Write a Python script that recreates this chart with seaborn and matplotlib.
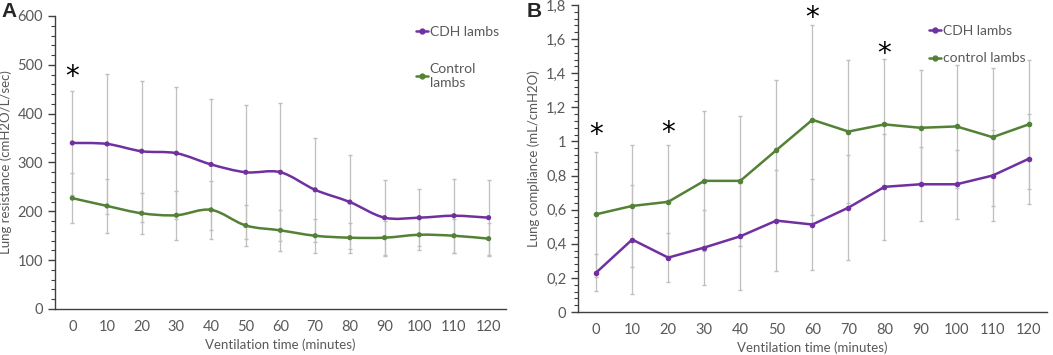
import numpy as np
import pandas as pd
import matplotlib
matplotlib.use("Agg")
import matplotlib.pyplot as plt
import seaborn as sns
from matplotlib.path import Path
from matplotlib.patches import PathPatch
from matplotlib.lines import Line2D
from matplotlib.ticker import MultipleLocator, FuncFormatter, FixedLocator

# ---------------- data ----------------
times = [0, 10, 20, 30, 40, 50, 60, 70, 80, 90, 100, 110, 120]

res_cdh = [340, 338, 323, 319, 296, 280, 280, 244, 219, 187, 187, 191, 187]
res_cdh_err = [107, 143, 144, 135, 134, 137, 141, 106, 96, 78, 59, 76, 78]
res_ctrl = [227, 211, 196, 192, 203, 171, 161, 150, 146, 146, 152, 150, 144]
res_ctrl_err = [51, 55, 42, 50, 59, 41, 42, 35, 31, 35, 32, 35, 33]

comp_cdh = [0.231, 0.425, 0.319, 0.378, 0.444, 0.536, 0.513, 0.612, 0.734, 0.749, 0.749, 0.800, 0.898]
comp_cdh_err = [0.11, 0.32, 0.143, 0.218, 0.313, 0.295, 0.265, 0.309, 0.309, 0.217, 0.203, 0.268, 0.262]
comp_ctrl = [0.573, 0.622, 0.646, 0.769, 0.769, 0.949, 1.127, 1.058, 1.100, 1.080, 1.088, 1.025, 1.100]
comp_ctrl_err = [0.366, 0.36, 0.336, 0.409, 0.379, 0.411, 0.556, 0.419, 0.381, 0.338, 0.36, 0.403, 0.377]

sig_res_times = [0]
sig_res_y = [490]
sig_comp_times = [0, 20, 60, 80]
sig_comp_y = [1.08, 1.09, 1.765, 1.555]

PURPLE = "#7030A0"
GREEN = "#538135"
GRAY_TXT = "#595959"
ERR = "#BFBFBF"
FS_TICK = 10.5
FS_LAB = 9.5
FS_LEG = 10

sns.set_theme(style="white")
plt.rcParams["font.family"] = ["Lato", "DejaVu Sans"]

fig = plt.figure(figsize=(10.53, 3.55), dpi=100)
axA = fig.add_axes([0.0522, 0.1296, 0.4283, 0.8254])
axB = fig.add_axes([0.549, 0.121, 0.445, 0.865])

pos = np.arange(len(times))


def smooth_path(x, y):
    x = np.asarray(x, float)
    y = np.asarray(y, float)
    P = np.column_stack([x, y])
    verts = [P[0]]
    codes = [Path.MOVETO]
    n = len(P)
    for i in range(n - 1):
        p0 = P[i - 1] if i > 0 else P[i]
        p1 = P[i]
        p2 = P[i + 1]
        p3 = P[i + 2] if i + 2 < n else P[i + 1]
        c1 = p1 + (p2 - p0) / 6.0
        c2 = p2 - (p3 - p1) / 6.0
        verts += [c1, c2, p2]
        codes += [Path.CURVE4] * 3
    return Path(verts, codes)


def style_axis(ax):
    for s in ["top", "right"]:
        ax.spines[s].set_visible(False)
    for s in ["left", "bottom"]:
        ax.spines[s].set_color("#404040")
        ax.spines[s].set_linewidth(1.0)
    ax.set_xlim(-0.5, len(times) - 0.5)
    ax.xaxis.set_major_locator(FixedLocator(pos))
    ax.set_xticklabels([str(t) for t in times])
    ax.xaxis.set_minor_locator(FixedLocator(np.arange(0.5, len(times), 1.0)))
    ax.tick_params(axis="x", which="major", length=0, pad=8, labelsize=FS_TICK, labelcolor=GRAY_TXT)
    ax.tick_params(axis="x", which="minor", length=4, direction="in", color="#404040", width=1)
    ax.tick_params(axis="y", which="major", length=5, direction="out", color="#404040", width=1,
                   labelsize=FS_TICK, labelcolor=GRAY_TXT, left=True)
    ax.tick_params(axis="y", which="minor", length=3, direction="out", color="#404040", width=0.8, left=True)
    ax.set_xlabel("Ventilation time (minutes)", fontsize=FS_LAB, color=GRAY_TXT, labelpad=3)
    ax.grid(False)


def star(ax, x, y):
    ax.annotate("*", xy=(x, y), xytext=(0, -5), textcoords="offset points",
                fontsize=20, ha="center", va="center", color="black", family="DejaVu Sans")


# ---------------- panel A ----------------
axA.errorbar(pos, res_cdh, yerr=res_cdh_err, fmt="none", ecolor=ERR, elinewidth=0.9, capsize=1.5, zorder=1)
axA.errorbar(pos, res_ctrl, yerr=res_ctrl_err, fmt="none", ecolor=ERR, elinewidth=0.9, capsize=1.5, zorder=1)
for vals, col in [(res_cdh, PURPLE), (res_ctrl, GREEN)]:
    axA.add_patch(PathPatch(smooth_path(pos, vals), facecolor="none", edgecolor=col, lw=1.8, zorder=2))
dfA = pd.DataFrame({"pos": np.concatenate([pos, pos]),
                    "val": res_cdh + res_ctrl,
                    "grp": ["CDH lambs"] * len(pos) + ["Control lambs"] * len(pos)})
sns.scatterplot(data=dfA, x="pos", y="val", hue="grp", palette=[PURPLE, GREEN], s=14,
                edgecolor="none", ax=axA, legend=False, zorder=3)
axA.set_ylim(0, 600)
axA.yaxis.set_major_locator(MultipleLocator(100))
axA.yaxis.set_minor_locator(MultipleLocator(20))
style_axis(axA)
axA.set_ylabel("Lung resistance (cmH2O/L/sec)", fontsize=FS_LAB, color=GRAY_TXT, labelpad=4)
for t, yv in zip(sig_res_times, sig_res_y):
    star(axA, times.index(t), yv)
hA = [Line2D([], [], color=PURPLE, marker="o", markersize=3.5, lw=1.8),
      Line2D([], [], color=GREEN, marker="o", markersize=3.5, lw=1.8)]
axA.legend(hA, ["CDH lambs", "Control\nlambs"], loc="upper left", bbox_to_anchor=(0.772, 1.01),
           frameon=False, handlelength=0.9, handletextpad=0.1, labelspacing=1.8,
           fontsize=FS_LEG, labelcolor=GRAY_TXT)

# ---------------- panel B ----------------
axB.errorbar(pos, comp_cdh, yerr=comp_cdh_err, fmt="none", ecolor=ERR, elinewidth=0.9, capsize=1.5, zorder=1)
axB.errorbar(pos, comp_ctrl, yerr=comp_ctrl_err, fmt="none", ecolor=ERR, elinewidth=0.9, capsize=1.5, zorder=1)
dfB = pd.DataFrame({"pos": np.concatenate([pos, pos]),
                    "val": comp_cdh + comp_ctrl,
                    "grp": ["CDH lambs"] * len(pos) + ["control lambs"] * len(pos)})
sns.lineplot(data=dfB, x="pos", y="val", hue="grp", palette=[PURPLE, GREEN], marker="o",
             markersize=4, markeredgewidth=0, lw=1.8, ax=axB, legend=False, zorder=2)
axB.set_ylim(0, 1.8)
axB.yaxis.set_major_locator(MultipleLocator(0.2))
axB.yaxis.set_minor_locator(MultipleLocator(0.04))
axB.yaxis.set_major_formatter(FuncFormatter(lambda v, p: ("%g" % round(v, 2)).replace(".", ",")))
style_axis(axB)
axB.set_ylabel("Lung compliance (mL/cmH2O)", fontsize=FS_LAB, color=GRAY_TXT, labelpad=4)
for t, yv in zip(sig_comp_times, sig_comp_y):
    star(axB, times.index(t), yv)
axB.legend(hA, ["CDH lambs", "control lambs"], loc="upper left", bbox_to_anchor=(0.722, 0.975),
           frameon=False, handlelength=0.9, handletextpad=0.1, labelspacing=1.1,
           fontsize=FS_LEG, labelcolor=GRAY_TXT)

fig.text(0.001, 0.995, "A", fontsize=15, fontweight="bold", ha="left", va="top", family="Liberation Sans")
fig.text(0.5, 0.995, "B", fontsize=15, fontweight="bold", ha="left", va="top", family="Liberation Sans")

fig.savefig("out.png", dpi=100)
